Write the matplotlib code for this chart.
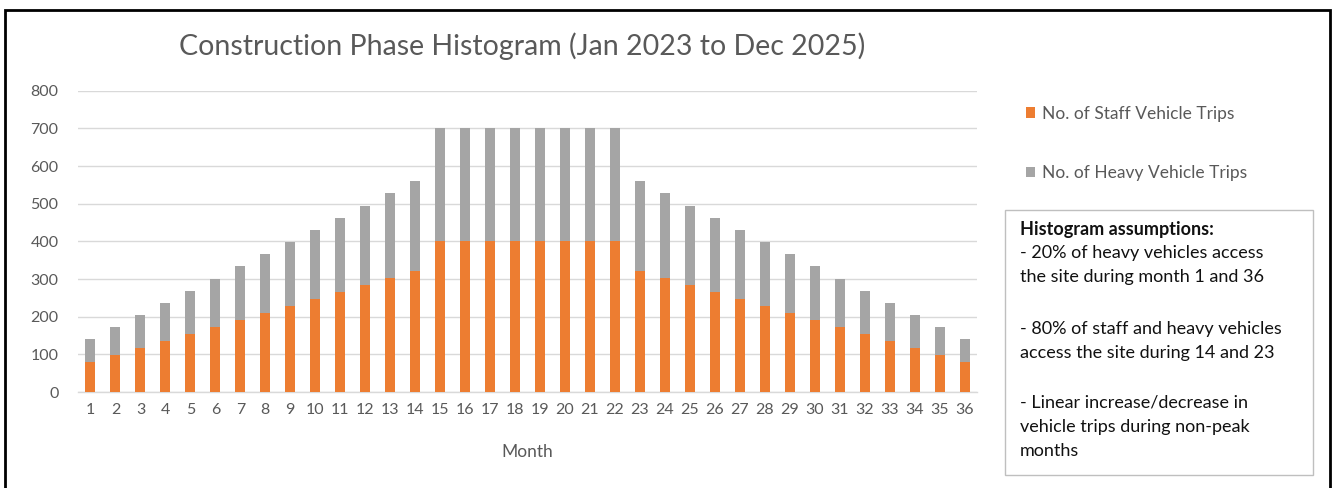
"""Construction phase histogram: staff and heavy vehicle trips per month."""

import matplotlib

matplotlib.use("Agg")
import matplotlib.pyplot as plt
from matplotlib.patches import Patch, Rectangle

plt.rcParams["font.family"] = ["Lato", "DejaVu Sans"]

MONTHS = list(range(1, 37))

STAFF_TRIPS = [
    80, 98, 117, 135, 154, 172, 191, 209, 228, 246, 265, 283, 302, 320,
    400, 400, 400, 400, 400, 400, 400, 400,
    320, 302, 283, 265, 246, 228, 209, 191, 172, 154, 135, 117, 98, 80,
]
HEAVY_TRIPS = [
    60, 74, 88, 101, 115, 129, 143, 157, 171, 185, 198, 212, 226, 240,
    300, 300, 300, 300, 300, 300, 300, 300,
    240, 226, 212, 198, 185, 171, 157, 143, 129, 115, 101, 88, 74, 60,
]

Y_TICKS = [0, 100, 200, 300, 400, 500, 600, 700, 800]

SERIES_LABELS = ["No. of Staff Vehicle Trips", "No. of Heavy Vehicle Trips"]
ASSUMPTION_TITLE = "Histogram assumptions:"
ASSUMPTION_PARAGRAPHS = [
    ["- 20% of heavy vehicles access", "the site during month 1 and 36"],
    ["- 80% of staff and heavy vehicles", "access the site during 14 and 23"],
    ["- Linear increase/decrease in", "vehicle trips during non-peak", "months"],
]

ORANGE = "#ED7D31"
GREY = "#A5A5A5"
TEXT_GREY = "#595959"
GRID_GREY = "#D9D9D9"

W, H = 1335, 488


def fx(px):
    return px / W


def fy(px):
    return 1 - px / H


fig = plt.figure(figsize=(W / 100, H / 100), dpi=100)
ax = fig.add_axes([fx(78), fy(392), fx(977 - 78), (392 - 90.7) / H])

ax.bar(MONTHS, STAFF_TRIPS, width=0.4, color=ORANGE, zorder=3)
ax.bar(MONTHS, HEAVY_TRIPS, width=0.4, bottom=STAFF_TRIPS, color=GREY, zorder=3)

ax.set_xlim(0.5, 36.5)
ax.set_ylim(0, 800)
ax.set_xticks(MONTHS)
ax.set_yticks(Y_TICKS)
ax.tick_params(axis="both", length=0, colors=TEXT_GREY, labelsize=11.5)
ax.tick_params(axis="x", pad=8)
ax.tick_params(axis="y", pad=14)
ax.grid(axis="y", color=GRID_GREY, linewidth=1, zorder=0)
for side in ("top", "right", "left"):
    ax.spines[side].set_visible(False)
ax.spines["bottom"].set_color(GRID_GREY)
ax.spines["bottom"].set_linewidth(1)

fig.text(fx(527), fy(452), "Month", ha="center", va="center",
         color=TEXT_GREY, fontsize=12.5)
fig.text(fx(522), fy(46), "Construction Phase Histogram (Jan 2023 to Dec 2025)",
         ha="center", va="center", color=TEXT_GREY, fontsize=20.5)

handles = [Patch(facecolor=ORANGE), Patch(facecolor=GREY)]
fig.legend(
    handles, SERIES_LABELS,
    loc="upper left", bbox_to_anchor=(fx(1017), fy(97)),
    frameon=False, fontsize=12.5, labelcolor=TEXT_GREY,
    handlelength=0.55, handleheight=0.55, handletextpad=0.4,
    labelspacing=2.5, borderpad=0,
)

# assumptions box
fig.add_artist(Rectangle((fx(1005), fy(475)), fx(1313 - 1005), (475 - 210) / H,
                         transform=fig.transFigure, facecolor="white",
                         edgecolor="#BFBFBF", linewidth=1))
fig.text(fx(1020), fy(230), ASSUMPTION_TITLE, ha="left", va="center",
         fontsize=13, fontweight="bold", color="#111111")
for top, lines in zip([253, 329, 403], ASSUMPTION_PARAGRAPHS):
    for i, line in enumerate(lines):
        fig.text(fx(1020), fy(top + 24 * i), line, ha="left", va="center",
                 fontsize=13, color="#111111")

# outer frame of the screenshot
fig.add_artist(Rectangle((fx(4.5), -0.05), fx(1330 - 4.5), 1.05 - 9.5 / H,
                         transform=fig.transFigure, facecolor="none",
                         edgecolor="black", linewidth=2))

fig.savefig("out.png", dpi=100)
